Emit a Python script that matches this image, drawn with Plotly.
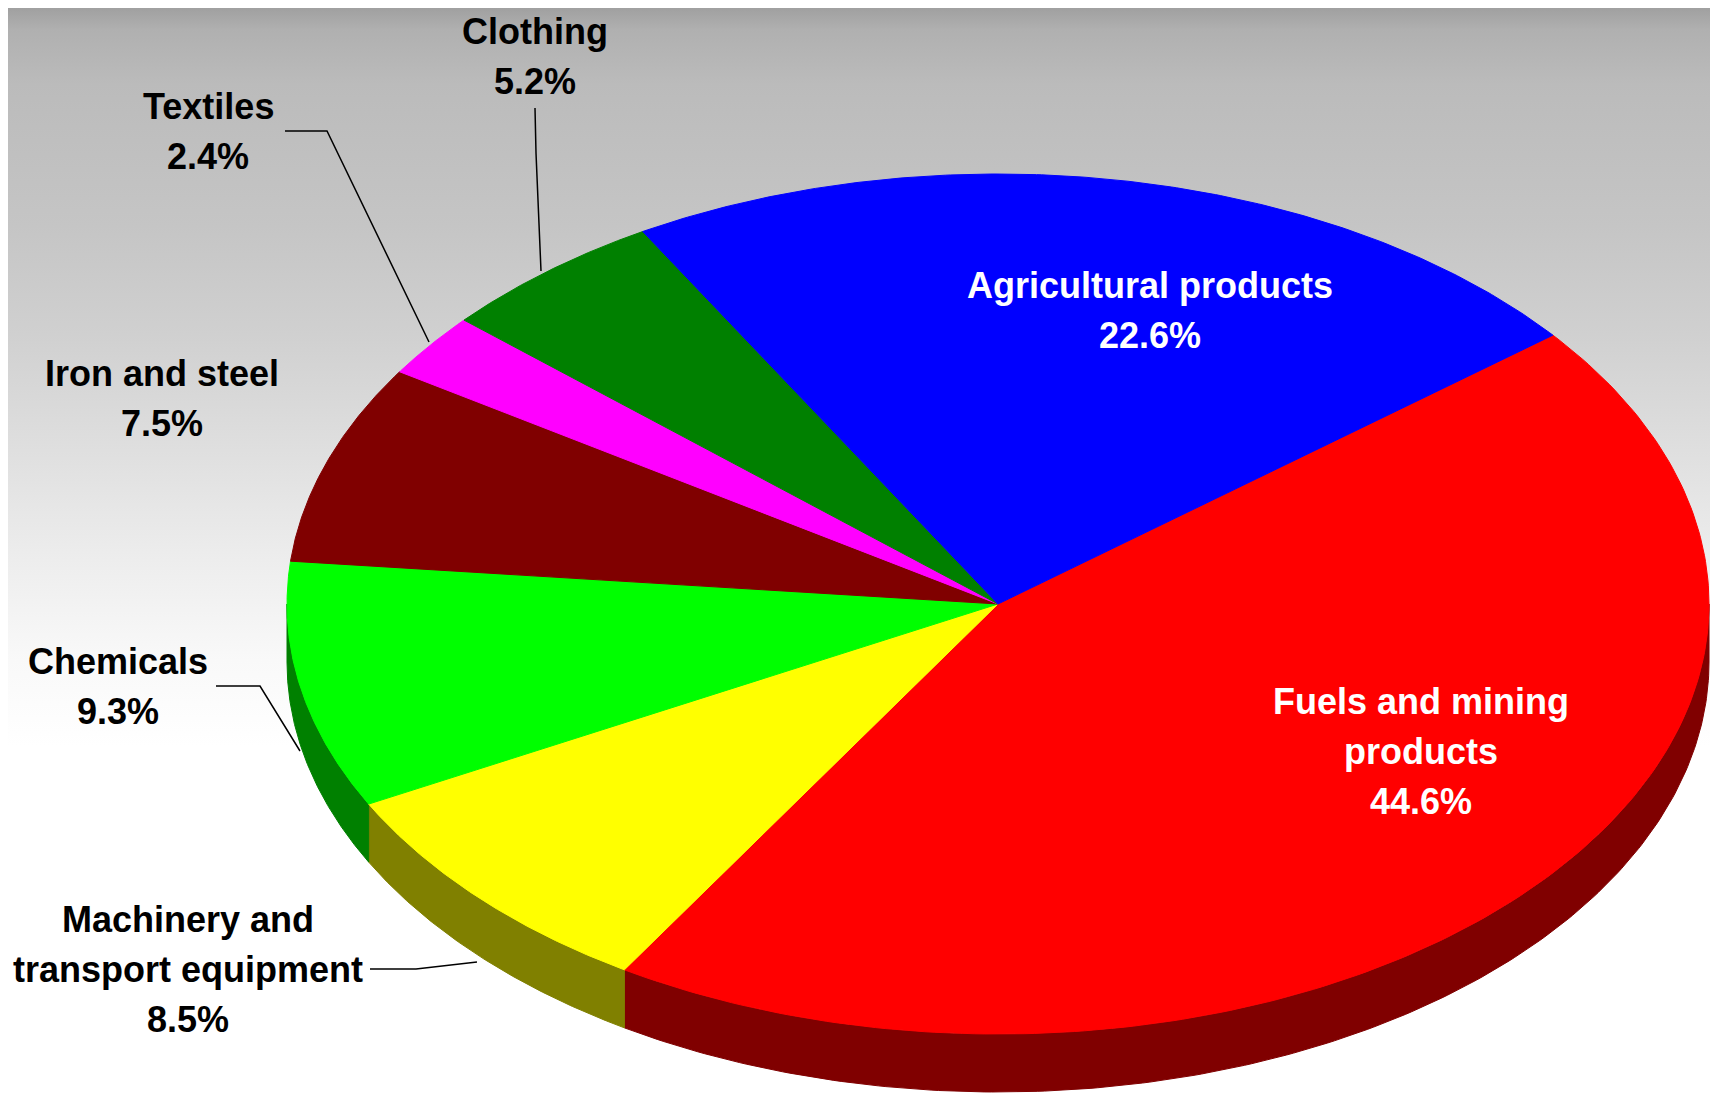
import base64
import numpy as np
import plotly.graph_objects as go

# Data
categories = ["Fuels and mining products", "Machinery and transport equipment", "Chemicals",
              "Iron and steel", "Textiles", "Clothing", "Agricultural products"]
shares = [44.6, 8.5, 9.3, 7.5, 2.4, 5.2, 22.6]
top_colors = ["#FF0000", "#FFFF00", "#00FF00", "#800000", "#FF00FF", "#008000", "#0000FF"]
side_colors = ["#800000", "#808000", "#008000", "#400000", "#800080", "#004000", "#000080"]

# how the labels wrap
label_lines = {
    "Fuels and mining products": ["Fuels and mining", "products"],
    "Machinery and transport equipment": ["Machinery and", "transport equipment"],
}

# pie geometry (pixel space of the 1718x1095 window)
W, H = 1718, 1095
OFF = 8  # the page body margin pushes the figure 8px right/down
CX, CY = 998, 604
RX, RY = 711, 430
DEPTH = 58
START = 38.7  # degrees, slices go clockwise

# label anchor (x, y of first line), text colour
label_pos = {
    "Fuels and mining products": (1421, 701, "white"),
    "Machinery and transport equipment": (188, 919, "black"),
    "Chemicals": (118, 661, "black"),
    "Iron and steel": (162, 373, "black"),
    "Textiles": (208, 106, "black"),
    "Clothing": (535, 31, "black"),
    "Agricultural products": (1150, 285, "white"),
}
LINE_GAP = 50

leaders = [
    [(535, 108), (536, 153), (541, 271)],
    [(285, 131), (327, 131), (429, 342)],
    [(216, 686), (260, 686), (300, 751)],
    [(370, 969), (416, 969), (477, 962)],
]


def arc(t0, t1, n=200, dy=0):
    t = np.radians(np.linspace(t0, t1, n))
    return CX + RX * np.cos(t), CY - RY * np.sin(t) + dy


fig = go.Figure()

total = sum(shares)
angles = []
a = START
for v in shares:
    span = 360 * v / total
    angles.append((a, a - span))
    a -= span

# side walls (only the front half is visible)
for (t0, t1), col in zip(angles, side_colors):
    hi, lo = min(t0, 0), max(t1, -180)
    if hi <= lo:
        continue
    xs, ys = arc(hi, lo)
    xb, yb = arc(lo, hi, dy=DEPTH)
    fig.add_trace(go.Scatter(
        x=np.concatenate([xs, xb, xs[:1]]), y=np.concatenate([ys, yb, ys[:1]]),
        fill="toself", fillcolor=col, mode="lines", line=dict(color=col, width=1),
        hoverinfo="skip", showlegend=False))

# top faces
for (t0, t1), col, name, v in zip(angles, top_colors, categories, shares):
    xs, ys = arc(t0, t1)
    fig.add_trace(go.Scatter(
        x=np.concatenate([[CX], xs, [CX]]), y=np.concatenate([[CY], ys, [CY]]),
        fill="toself", fillcolor=col, mode="lines", line=dict(color=col, width=1),
        name=name, text=f"{name}: {v}%", hoverinfo="text", showlegend=False))

# labels
for name, v in zip(categories, shares):
    x, y, c = label_pos[name]
    lines = label_lines.get(name, [name]) + [f"{v}%"]
    for i, s in enumerate(lines):
        fig.add_annotation(x=x, y=y + i * LINE_GAP, xref="x", yref="y", text=s,
                           showarrow=False, xanchor="center", yanchor="middle",
                           font=dict(family="Liberation Sans, Arial, sans-serif",
                                     size=36, color=c, weight="bold"))

for pts in leaders:
    path = "M " + " L ".join(f"{px} {py}" for px, py in pts)
    fig.add_shape(type="path", path=path, xref="x", yref="y",
                  line=dict(color="black", width=1.5))

# grey-to-white background
svg = f"""<svg xmlns="http://www.w3.org/2000/svg" width="{W}" height="{H}" preserveAspectRatio="none">
<defs><linearGradient id="g" x1="0" y1="0" x2="0" y2="1">
<stop offset="0" stop-color="#a0a0a0"/><stop offset="0.02" stop-color="#b0b0b0"/>
<stop offset="0.07" stop-color="#bbbbbb"/><stop offset="0.2" stop-color="#c5c5c5"/>
<stop offset="0.3" stop-color="#d0d0d0"/><stop offset="0.4" stop-color="#dedede"/>
<stop offset="0.5" stop-color="#ececec"/><stop offset="0.6" stop-color="#f9f9f9"/>
<stop offset="0.68" stop-color="#ffffff"/></linearGradient></defs>
<rect width="{W}" height="{H}" fill="url(#g)"/></svg>"""
fig.add_layout_image(source="data:image/svg+xml;base64," + base64.b64encode(svg.encode()).decode(),
                     xref="paper", yref="paper", x=0, y=1, sizex=1, sizey=1,
                     sizing="stretch", layer="below", xanchor="left", yanchor="top")

fig.update_layout(
    width=W - OFF, height=H - OFF,
    margin=dict(l=0, r=0, t=0, b=0),
    paper_bgcolor="white", plot_bgcolor="rgba(0,0,0,0)",
    xaxis=dict(range=[OFF, W], visible=False, fixedrange=True),
    yaxis=dict(range=[H, OFF], visible=False, fixedrange=True),
    showlegend=False,
)

fig.write_html("out.html")
